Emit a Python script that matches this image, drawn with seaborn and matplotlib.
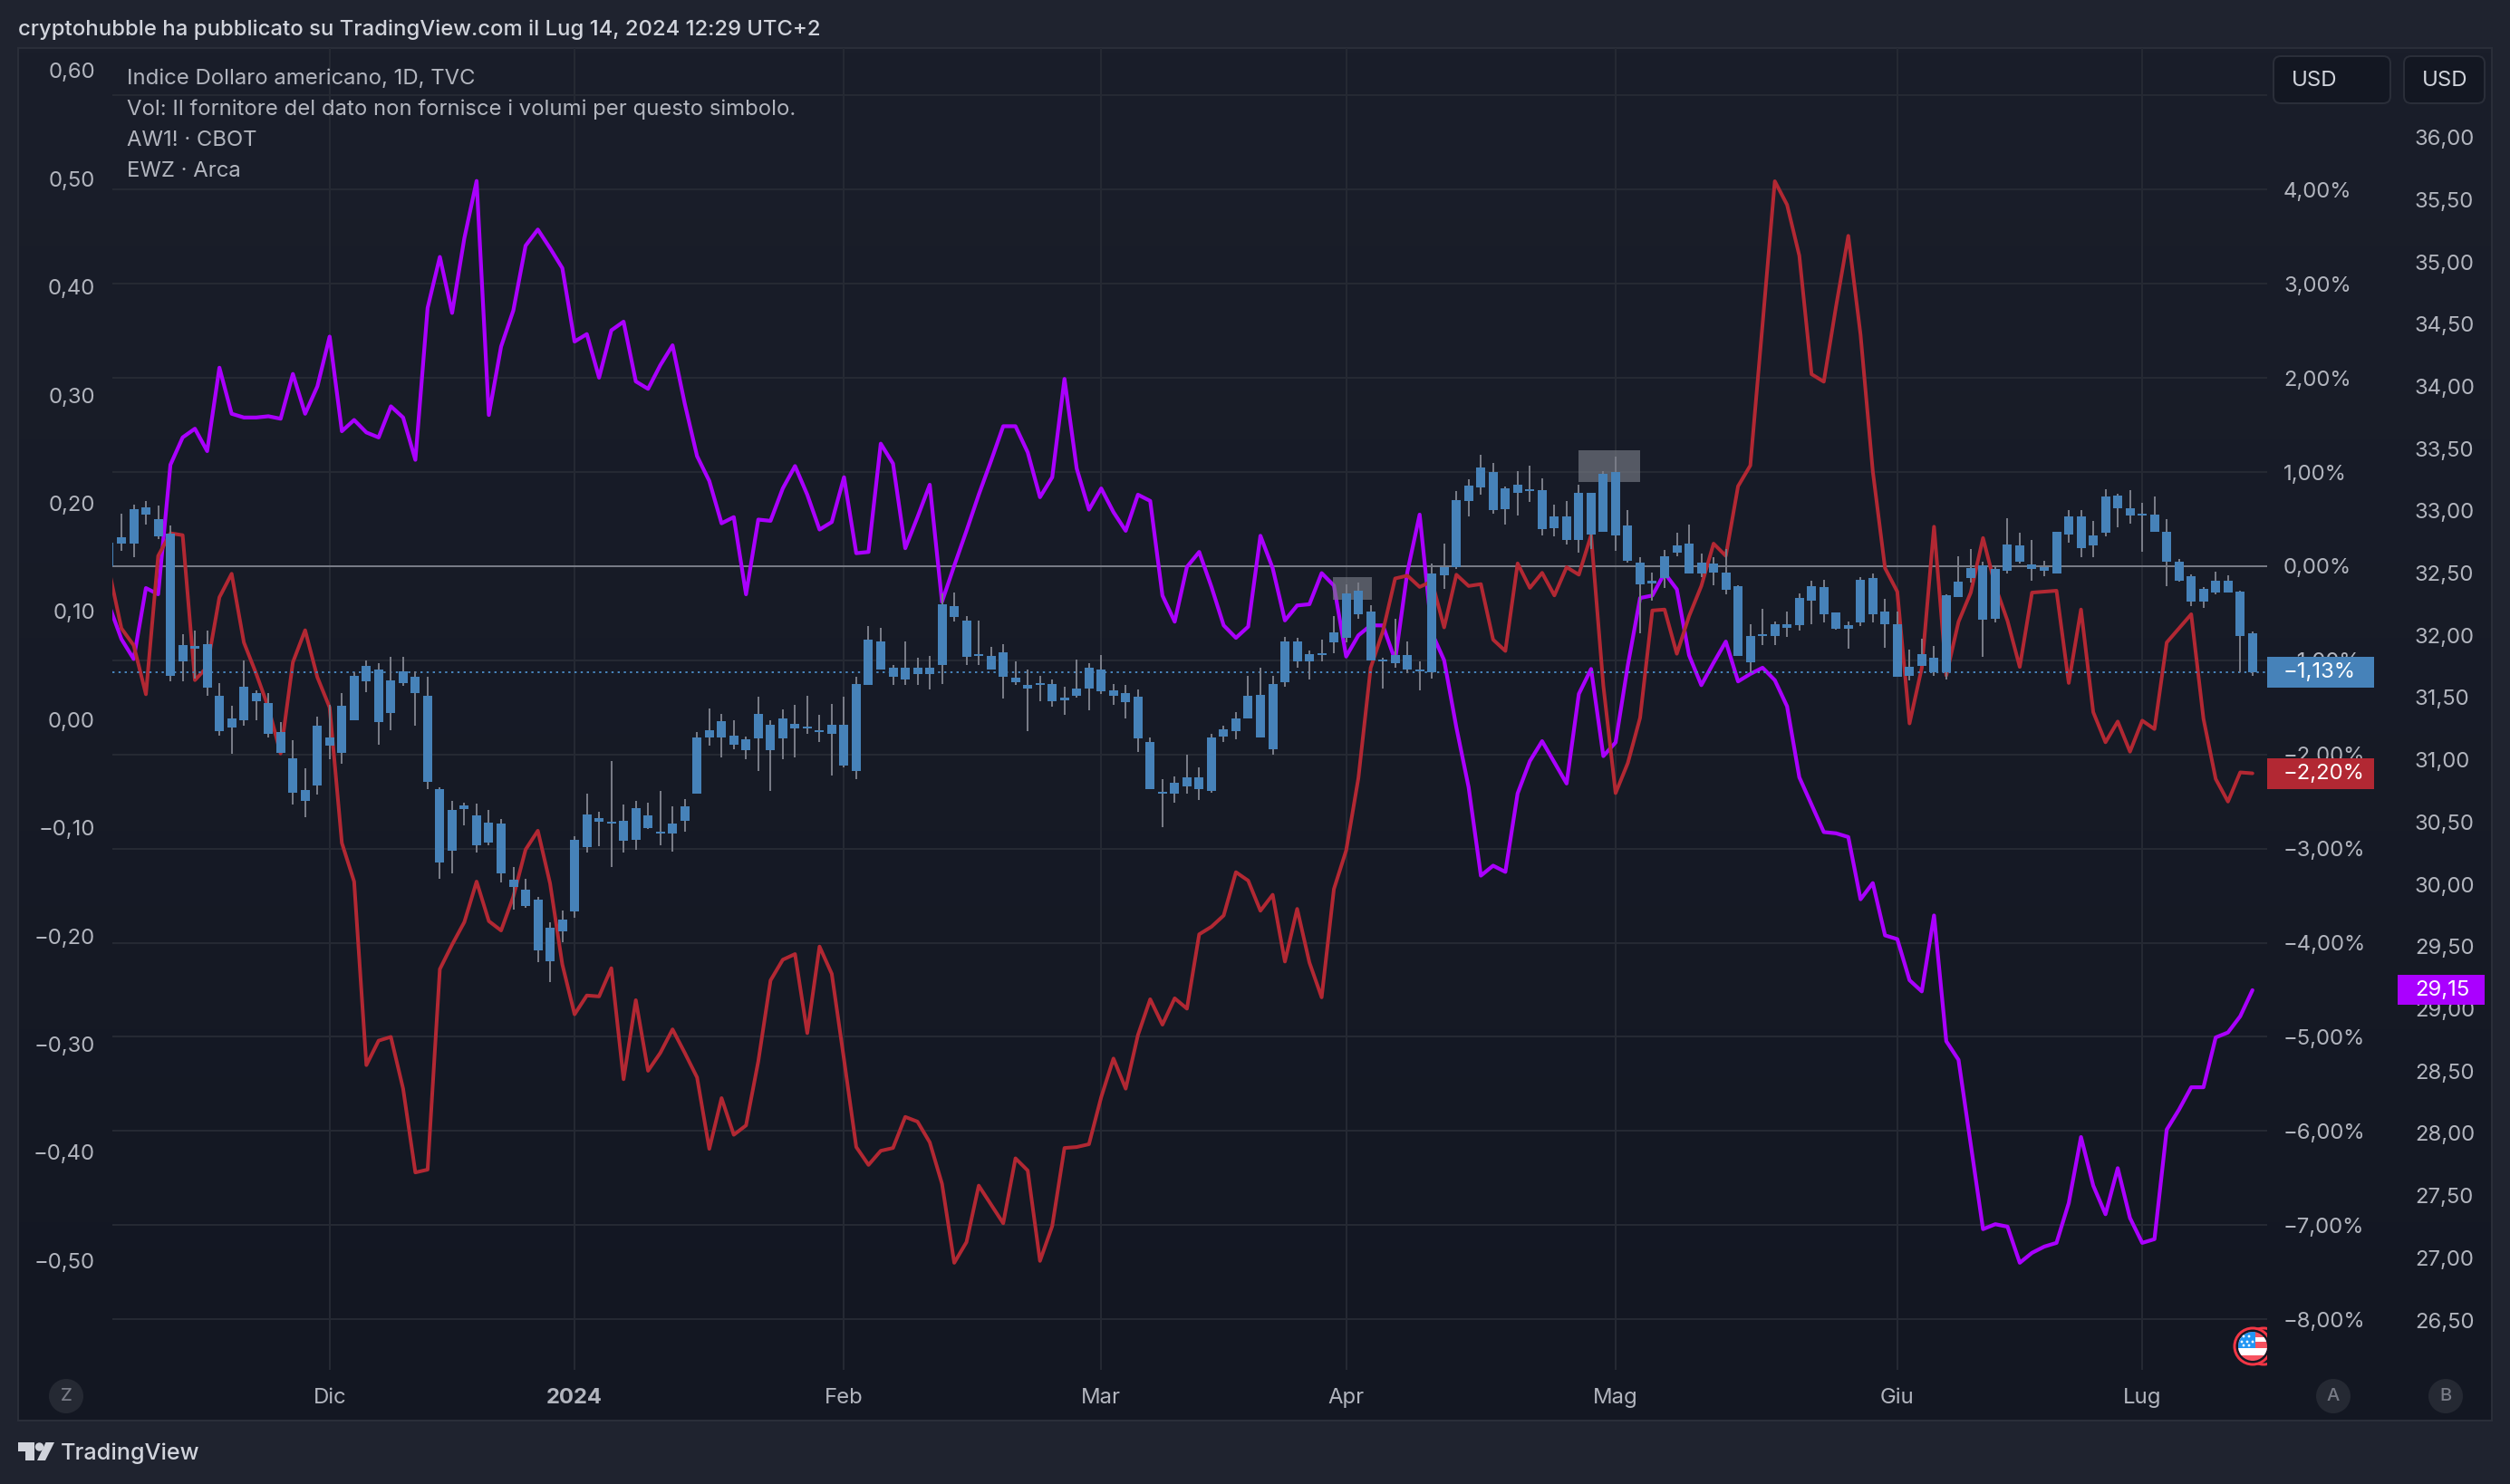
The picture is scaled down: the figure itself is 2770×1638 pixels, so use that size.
import numpy as np
import seaborn as sns
import matplotlib.pyplot as plt
from matplotlib.colors import LinearSegmentedColormap
from matplotlib.patches import Circle, FancyBboxPatch, Polygon, Rectangle

# Candles of the dollar index, % from the first close (all one colour, so top/bottom only)
candle_top = [
    .25, .31, .61, .63, .50, .35, -.84, -.85, -.83, -1.38,
    -1.62, -1.28, -1.35, -1.45, -1.76, -2.04, -2.38, -1.69, -1.82, -1.48,
    -1.16, -1.06, -1.10, -1.21, -1.12, -1.17, -1.38, -2.37, -2.59, -2.54,
    -2.65, -2.72, -2.73, -3.33, -3.44, -3.54, -3.84, -3.75, -2.91, -2.64,
    -2.68, -2.71, -2.70, -2.57, -2.65, -2.82, -2.73, -2.55, -1.82, -1.74,
    -1.65, -1.80, -1.84, -1.57, -1.68, -1.62, -1.67, -1.70, -1.74, -1.68,
    -1.68, -1.25, -.78, -.80, -1.08, -1.08, -1.08, -1.08, -.40, -.42,
    -.58, -.93, -.95, -.91, -1.18, -1.26, -1.24, -1.25, -1.40, -1.30,
    -1.08, -1.10, -1.32, -1.35, -1.39, -1.87, -2.40, -2.30, -2.24, -2.24,
    -1.82, -1.73, -1.62, -1.38, -1.37, -1.25, -.80, -.80, -.93, -.92,
    -.70, -.29, -.26, -.48, -.99, -.94, -.94, -1.10, -.08, -.01,
    .70, .86, 1.05, 1.00, .83, .87, .82, .81, .53, .53,
    .78, .78, .98, 1.00, .43, .04, -.15, .11, .22, .24,
    .04, .03, -.07, -.21, -.74, -.72, -.62, -.62, -.34, -.21,
    -.22, -.49, -.63, -.14, -.13, -.48, -.62, -1.07, -.93, -.97,
    -.31, -.16, -.02, .01, -.03, .23, .22, .02, -.01, .37,
    .53, .53, .33, .74, .75, .62, .56, .55, .37, .05,
    -.11, -.24, -.15, -.15, -.27, -.71,
]
candle_bottom = [
    0, .24, .24, .55, .32, -1.16, -1.01, -.88, -1.29, -1.75,
    -1.71, -1.64, -1.43, -1.78, -1.98, -2.41, -2.49, -2.33, -1.91, -1.98,
    -1.64, -1.22, -1.66, -1.56, -1.24, -1.35, -2.29, -3.15, -3.02, -2.58,
    -2.96, -2.94, -3.26, -3.41, -3.61, -4.08, -4.20, -3.88, -3.67, -2.98,
    -2.71, -2.73, -2.92, -2.91, -2.78, -2.84, -2.84, -2.70, -2.42, -1.82,
    -1.82, -1.90, -1.95, -1.83, -1.95, -1.83, -1.72, -1.72, -1.76, -1.78,
    -2.12, -2.18, -1.26, -1.10, -1.17, -1.20, -1.15, -1.15, -1.05, -.54,
    -.96, -.95, -1.10, -1.17, -1.23, -1.30, -1.26, -1.43, -1.42, -1.38,
    -1.30, -1.33, -1.38, -1.44, -1.83, -2.37, -2.42, -2.42, -2.34, -2.37,
    -2.39, -1.81, -1.75, -1.62, -1.82, -1.94, -1.23, -1.01, -1.01, -.94,
    -.81, -.76, -.51, -1.00, -1.01, -1.03, -1.10, -1.12, -1.13, -.10,
    -.01, .69, .84, .60, .61, .78, .80, .39, .40, .28,
    .28, .34, .37, .33, .06, -.19, -.18, -.13, .14, -.08,
    -.08, -.07, -.25, -.95, -1.02, -.74, -.74, -.65, -.63, -.37,
    -.51, -.66, -.66, -.60, -.51, -.62, -1.17, -1.16, -1.06, -1.13,
    -1.13, -.33, -.13, -.57, -.56, -.05, .05, -.03, -.05, -.08,
    .34, .19, .22, .36, .62, .54, .54, .37, .05, -.15,
    -.38, -.38, -.28, -.28, -.74, -1.13,
]
candle_high = [
    .25, .56, .65, .69, .64, .43, -.72, -.68, -.68, -1.24,
    -1.48, -1.00, -1.32, -1.35, -1.66, -1.85, -2.15, -1.60, -1.47, -1.35,
    -1.13, -1.00, -1.03, -.96, -.96, -1.12, -1.17, -2.35, -2.49, -2.51,
    -2.52, -2.59, -2.69, -3.20, -3.32, -3.51, -3.78, -3.66, -2.87, -2.42,
    -2.61, -2.07, -2.53, -2.49, -2.51, -2.39, -2.55, -2.47, -1.76, -1.51,
    -1.57, -1.64, -1.81, -1.39, -1.64, -1.52, -1.47, -1.38, -1.58, -1.46,
    -1.39, -1.17, -.64, -.65, -1.05, -.80, -.97, -.95, -.29, -.28,
    -.53, -.58, -.86, -.83, -1.01, -1.10, -1.16, -1.20, -1.28, -.99,
    -1.03, -.94, -1.25, -1.26, -1.31, -1.82, -2.26, -2.23, -2.00, -2.14,
    -1.78, -1.69, -1.55, -1.16, -1.08, -1.16, -.75, -.76, -.90, -.78,
    -.53, -.19, -.17, -.41, -.97, -.56, -.80, -1.01, .03, .24,
    .80, .92, 1.18, 1.10, .85, 1.01, 1.07, .93, .65, .69,
    .87, .78, 1.01, 1.16, .60, .10, -.07, .17, .36, .44,
    .13, .10, .18, -.20, -.62, -.45, -.59, -.48, -.29, -.15,
    -.14, -.49, -.59, -.12, -.08, -.35, -.48, -.89, -.77, -.85,
    -.30, .11, .18, .05, .01, .51, .36, .28, .06, .37,
    .60, .60, .48, .82, .77, .81, .67, .74, .50, .08,
    -.09, -.22, -.06, -.10, -.26, -.69,
]
candle_low = [
    0, .16, .10, .44, .29, -1.22, -1.22, -1.19, -1.38, -1.80,
    -1.99, -1.69, -1.64, -1.82, -1.98, -2.53, -2.67, -2.43, -2.05, -2.10,
    -1.64, -1.34, -1.90, -1.74, -1.27, -1.69, -2.37, -3.32, -3.26, -2.75,
    -3.04, -2.96, -3.36, -3.65, -3.63, -4.21, -4.42, -3.99, -3.73, -3.04,
    -2.97, -3.20, -3.04, -3.01, -2.79, -2.96, -3.03, -2.82, -2.42, -1.91,
    -2.03, -1.94, -2.05, -2.18, -2.39, -2.05, -2.03, -1.78, -1.87, -2.22,
    -2.14, -2.26, -1.26, -1.10, -1.26, -1.26, -1.26, -1.31, -1.25, -.59,
    -1.05, -1.05, -1.10, -1.41, -1.26, -1.75, -1.43, -1.49, -1.58, -1.40,
    -1.53, -1.36, -1.47, -1.62, -1.97, -2.37, -2.77, -2.51, -2.42, -2.48,
    -2.41, -1.87, -1.84, -1.62, -1.82, -2.00, -1.28, -1.08, -1.20, -1.01,
    -.92, -.81, -.56, -1.00, -1.30, -1.08, -1.14, -1.32, -1.19, -.24,
    -.03, .53, .76, .56, .44, .54, .68, .33, .32, .23,
    .14, .18, .37, .16, .04, -.71, -.37, -.23, .11, -.08,
    -.12, -.20, -.30, -.95, -1.13, -.84, -.84, -.75, -.68, -.62,
    -.60, -.67, -.88, -.64, -.60, -.87, -1.17, -1.21, -1.06, -1.16,
    -1.20, -.33, -.17, -.96, -.60, -.08, .03, -.15, -.11, -.08,
    .25, .10, .10, .32, .41, .45, .15, .37, -.21, -.16,
    -.42, -.44, -.30, -.28, -1.13, -1.16,
]

# AW1! in %, same axis as the candles
aw1_pct = [
    -.05, -.66, -.84, -1.36, .11, .35, .33, -1.21, -1.07, -.33,
    -.08, -.81, -1.14, -1.50, -1.99, -1.02, -.68, -1.18, -1.50, -2.94,
    -3.35, -5.30, -5.04, -5.00, -5.55, -6.44, -6.41, -4.28, -4.02, -3.78,
    -3.35, -3.77, -3.87, -3.51, -3.01, -2.81, -3.37, -4.23, -4.76, -4.56,
    -4.57, -4.27, -5.45, -4.61, -5.36, -5.17, -4.92, -5.17, -5.43, -6.19,
    -5.65, -6.04, -5.94, -5.26, -4.40, -4.18, -4.12, -4.96, -4.04, -4.33,
    -5.24, -6.17, -6.36, -6.21, -6.18, -5.85, -5.90, -6.12, -6.56, -7.40,
    -7.18, -6.58, -6.78, -6.98, -6.29, -6.42, -7.38, -7.01, -6.18, -6.17,
    -6.14, -5.64, -5.23, -5.55, -4.98, -4.60, -4.87, -4.59, -4.70, -3.91,
    -3.83, -3.71, -3.25, -3.34, -3.66, -3.49, -4.20, -3.64, -4.21, -4.58,
    -3.43, -3.02, -2.25, -1.08, -.69, -.13, -.10, -.22, -.16, -.65,
    -.09, -.21, -.19, -.78, -.90, .03, -.23, -.07, -.31, -.01,
    -.09, .33, -1.27, -2.41, -2.09, -1.61, -.47, -.46, -.93, -.53,
    -.21, .24, .11, .85, 1.07, 2.57, 4.09, 3.84, 3.30, 2.04,
    1.96, 2.76, 3.51, 2.46, 1.01, -.02, -.27, -1.67, -1.08, .42,
    -1.16, -.59, -.28, .30, -.21, -.58, -1.07, -.28, -.27, -.26,
    -1.24, -.46, -1.55, -1.87, -1.65, -1.97, -1.64, -1.73, -.81, -.66,
    -.51, -1.62, -2.26, -2.50, -2.19, -2.20,
]

# EWZ price in USD, rightmost axis
ewz_price = [
    32.24, 31.97, 31.81, 32.38, 32.33, 33.37, 33.59, 33.66, 33.48, 34.15,
    33.78, 33.75, 33.75, 33.76, 33.74, 34.10, 33.78, 34.00, 34.40, 33.64,
    33.73, 33.63, 33.59, 33.84, 33.75, 33.41, 34.63, 35.04, 34.59, 35.19,
    35.65, 33.77, 34.32, 34.61, 35.13, 35.26, 35.11, 34.95, 34.36, 34.42,
    34.07, 34.45, 34.52, 34.04, 33.98, 34.17, 34.33, 33.86, 33.44, 33.24,
    32.90, 32.95, 32.33, 32.93, 32.92, 33.18, 33.36, 33.13, 32.85, 32.91,
    33.27, 32.66, 32.67, 33.54, 33.38, 32.70, 32.95, 33.21, 32.27, 32.56,
    32.84, 33.13, 33.40, 33.68, 33.68, 33.47, 33.11, 33.27, 34.06, 33.34,
    33.01, 33.18, 32.99, 32.84, 33.13, 33.08, 32.32, 32.11, 32.55, 32.67,
    32.39, 32.08, 31.98, 32.07, 32.80, 32.54, 32.12, 32.24, 32.25, 32.50,
    32.40, 31.83, 32.00, 32.08, 32.08, 31.80, 32.51, 32.97, 32.02, 31.80,
    31.26, 30.78, 30.07, 30.15, 30.10, 30.73, 30.99, 31.15, 30.98, 30.81,
    31.53, 31.73, 31.03, 31.14, 31.76, 32.30, 32.32, 32.50, 32.37, 31.84,
    31.60, 31.78, 31.95, 31.63, 31.69, 31.74, 31.64, 31.43, 30.86, 30.64,
    30.42, 30.41, 30.38, 29.88, 30.01, 29.59, 29.56, 29.23, 29.14, 29.75,
    28.74, 28.59, 27.91, 27.23, 27.27, 27.25, 26.96, 27.04, 27.09, 27.12,
    27.44, 27.97, 27.58, 27.35, 27.72, 27.32, 27.12, 27.15, 28.03, 28.19,
    28.37, 28.37, 28.77, 28.81, 28.94, 29.15,
]

month_bars = [18, 38, 60, 81, 101, 123, 146, 166]
month_labels = ['Dic', '2024', 'Feb', 'Mar', 'Apr', 'Mag', 'Giu', 'Lug']
pct_ticks = [5, 4, 3, 2, 1, 0, -1, -2, -3, -4, -5, -6, -7, -8]
pct_labels = ['', '4,00%', '3,00%', '2,00%', '1,00%', '0,00%', '−1,00%', '−2,00%',
              '−3,00%', '−4,00%', '−5,00%', '−6,00%', '−7,00%', '−8,00%']
left_ticks = [.6, .5, .4, .3, .2, .1, 0, -.1, -.2, -.3, -.4, -.5]
left_labels = ['0,60', '0,50', '0,40', '0,30', '0,20', '0,10', '0,00', '−0,10',
               '−0,20', '−0,30', '−0,40', '−0,50']
price_ticks = [36, 35.5, 35, 34.5, 34, 33.5, 33, 32.5, 32, 31.5, 31, 30.5, 30, 29.5,
               29, 28.5, 28, 27.5, 27, 26.5]
price_labels = ['36,00', '35,50', '35,00', '34,50', '34,00', '33,50', '33,00', '32,50',
                '32,00', '31,50', '31,00', '30,50', '30,00', '29,50', '29,00', '28,50',
                '28,00', '27,50', '27,00', '26,50']
legend_lines = ['Indice Dollaro americano, 1D, TVC',
                'Vol: Il fornitore del dato non fornisce i volumi per questo simbolo.',
                'AW1! · CBOT', 'EWZ · Arca']
last_dxy = -1.13
last_aw1 = -2.20
last_ewz = 29.15

BLUE = '#4682b9'
RED = '#b22833'
PURPLE = '#aa00ff'
GREY = '#787b86'
TEXT = '#b2b5be'
GRID = '#252933'

W, H = 2770, 1638
LEFT, RIGHT, TOP, BOTTOM = 124, 2502, 53, 1512   # plot area in pixels
LABEL_PT = 17.2
px = 0.72   # one pixel in points at dpi 100

sns.set_theme(style='dark')
plt.rcParams['font.family'] = ['Inter', 'DejaVu Sans']

fig = plt.figure(figsize=(W / 100, H / 100), dpi=100, facecolor='#1f232f')
rect = [LEFT / W, 1 - BOTTOM / H, (RIGHT - LEFT) / W, (BOTTOM - TOP) / H]

# panel background, slightly lighter at the top
chrome = fig.add_axes([0, 0, 1, 1], zorder=0)
chrome.axis('off')
panel_cmap = LinearSegmentedColormap.from_list('panel', ['#1a1e2a', '#131722'])
chrome.imshow(np.linspace(0, 1, 256).reshape(-1, 1), cmap=panel_cmap, aspect='auto',
              extent=[20, 2750, 1568, TOP], zorder=0)
chrome.set_xlim(0, W)
chrome.set_ylim(H, 0)
chrome.add_patch(Rectangle((20, TOP), 2730, 1568 - TOP, fill=False, ec='#2a2e39', lw=2 * px, zorder=1))

bars = np.arange(len(candle_top))
xlim = (0.26, 176.2)
pct_lim = (-8.537, 5.505)

# grid and percent labels
ax = fig.add_axes(rect, zorder=1)
ax.set_facecolor('none')
ax.set_xlim(xlim)
ax.set_ylim(pct_lim)

# left axis, no series on it
ax_left = ax.twinx()
ax_left.set_zorder(1.5)
ax_left.set_ylim(-.601, .6209)
ax_left.yaxis.tick_left()
ax_left.set_yticks(left_ticks, left_labels)
ax_left.tick_params(axis='y', length=0, pad=19 * px, labelsize=LABEL_PT, labelcolor=TEXT)
ax_left.grid(False)

# EWZ on the far right axis
ax_price = ax.twinx()
ax_price.set_zorder(2)
ax_price.set_ylim(26.10, 36.718)
ax_price.yaxis.tick_right()
ax_price.set_yticks(price_ticks, price_labels)
ax_price.tick_params(axis='y', length=0, pad=163 * px, labelsize=LABEL_PT, labelcolor=TEXT)
ax_price.grid(False)
sns.lineplot(x=bars, y=ewz_price, ax=ax_price, color=PURPLE, linewidth=4.2 * px,
             errorbar=None, legend=False)
ax_price.set_ylabel('')

# AW1! and candles go on top
ax_marks = ax.twinx()
ax_marks.set_zorder(3)
ax_marks.set_ylim(pct_lim)
ax_marks.set_yticks([])
ax_marks.grid(False)
sns.lineplot(x=bars, y=aw1_pct, ax=ax_marks, color=RED, linewidth=4 * px,
             errorbar=None, legend=False, zorder=2)
ax_marks.set_ylabel('')
ax_marks.axhline(last_dxy, color=BLUE, lw=2 * px, ls=(0, (1.2, 2.2)), zorder=2.5)
# highlighted boxes
ax_marks.add_patch(Rectangle((99.9, -.356), 3.2, .241, fc=GREY, alpha=.65, ec='none', zorder=3))
ax_marks.add_patch(Rectangle((119.96, .895), 5.04, .335, fc=GREY, alpha=.65, ec='none', zorder=3))
ax_marks.vlines(bars, candle_low, candle_high, color=GREY, lw=2 * px, zorder=4)
ax_marks.bar(bars, np.array(candle_top) - np.array(candle_bottom), bottom=candle_bottom,
             width=.74, color=BLUE, linewidth=0, zorder=5)
for a in [ax_left, ax_price, ax_marks]:
    for s in a.spines.values():
        s.set_visible(False)

# twinx moved the ticks of ax to the left, so set them after it
ax.yaxis.tick_right()
ax.set_yticks(pct_ticks, pct_labels)
ax.set_xticks(month_bars, month_labels)
ax.tick_params(axis='y', length=0, pad=18 * px, labelsize=LABEL_PT, labelcolor=TEXT)
ax.tick_params(axis='x', length=0, pad=20 * px, labelsize=LABEL_PT, labelcolor=TEXT)
ax.get_xticklabels()[1].set_fontweight('bold')
ax.grid(True, color=GRID, lw=2 * px)
ax.axhline(0, color=GREY, lw=2 * px, zorder=3)
sns.despine(ax=ax, left=True, bottom=True)

# everything around the plot, in pixel coordinates
top = fig.add_axes([0, 0, 1, 1], zorder=10)
top.set_facecolor('none')
top.set_xlim(0, W)
top.set_ylim(H, 0)
top.axis('off')

top.text(20, 32.5, 'cryptohubble ha pubblicato su TradingView.com il Lug 14, 2024 12:29 UTC+2',
         color='#d1d4dc', fontsize=LABEL_PT, fontweight='medium', va='center')
for y, line in zip([87, 121, 155, 189], legend_lines):
    top.text(140, y, line, color=TEXT, fontsize=LABEL_PT, va='center')

# USD buttons
for x0, x1, tx in [(2509, 2638, 2529), (2653, 2742, 2673)]:
    top.add_patch(FancyBboxPatch((x0 + 8, 70), x1 - x0 - 16, 36, boxstyle='round,pad=8',
                                 fc='#131722', ec='#2a2e39', lw=2 * px))
    top.text(tx, 89, 'USD', color='#d1d4dc', fontsize=LABEL_PT, va='center')


def pct_y(v):
    return 625 - 103.9 * v


# last value tags
for val, col, txt in [(last_dxy, BLUE, '−1,13%'), (last_aw1, RED, '−2,20%')]:
    top.add_patch(Rectangle((RIGHT, pct_y(val) - 17), 118, 34, fc=col, ec='none'))
    top.text(2520, pct_y(val), txt, color='white', fontsize=LABEL_PT, va='center')
ewz_y = 151.7 + (36 - last_ewz) * 137.4
top.add_patch(Rectangle((2646, ewz_y - 16.5), 96, 33, fc=PURPLE, ec='none'))
top.text(2665, ewz_y, '29,15', color='white', fontsize=LABEL_PT, va='center')

# round buttons on the time axis
for x, letter in [(73, 'Z'), (2575, 'A'), (2699, 'B')]:
    top.add_patch(Circle((x, 1541), 19, fc='#252933', ec='none'))
    top.text(x, 1541, letter, color=GREY, fontsize=14.5, fontweight='medium',
             ha='center', va='center')

# event flag on the last bars, cut at the edge of the plot
clip = Rectangle((0, 0), RIGHT, H, transform=top.transData)
for shape in [Circle((2498, 1486), 20, fc='#131722', ec='#f23645', lw=3 * px),
              Circle((2486, 1486), 20, fc='#131722', ec='#f23645', lw=3 * px)]:
    top.add_patch(shape)
    shape.set_clip_path(clip)
flag = Circle((2486, 1486), 16, transform=top.transData)
for y0, h, col in [(1470, 32, '#f7525f'), (1476, 5, 'white'), (1488, 5, 'white')]:
    r = top.add_patch(Rectangle((2470, y0), 32, h, fc=col, ec='none'))
    r.set_clip_path(flag)
r = top.add_patch(Rectangle((2470, 1470), 19, 18, fc='#2196f3', ec='none'))
r.set_clip_path(flag)
r = top.add_patch(Rectangle((2470, 1493), 32, 2.5, fc='white', ec='none'))
r.set_clip_path(flag)
for sx, sy in [(2476, 1475), (2482, 1475), (2474, 1481), (2480, 1481), (2486, 1481), (2476, 1485), (2482, 1485)]:
    top.add_patch(Circle((sx, sy), 1.4, fc='white', ec='none'))

# TradingView logo
logo = '#d1d4dc'
top.add_patch(Polygon([(19.5, 1592), (38, 1592), (38, 1612), (28, 1612), (28, 1602), (19.5, 1602)],
                      fc=logo, ec='none'))
top.add_patch(Circle((43.5, 1597), 4.7, fc=logo, ec='none'))
top.add_patch(Polygon([(50.5, 1592), (60, 1592), (50, 1612), (41, 1612)], fc=logo, ec='none'))
top.text(67, 1604, 'TradingView', color=logo, fontsize=18.2, fontweight='medium', va='center')

fig.savefig('out.png', dpi=100, facecolor=fig.get_facecolor())
